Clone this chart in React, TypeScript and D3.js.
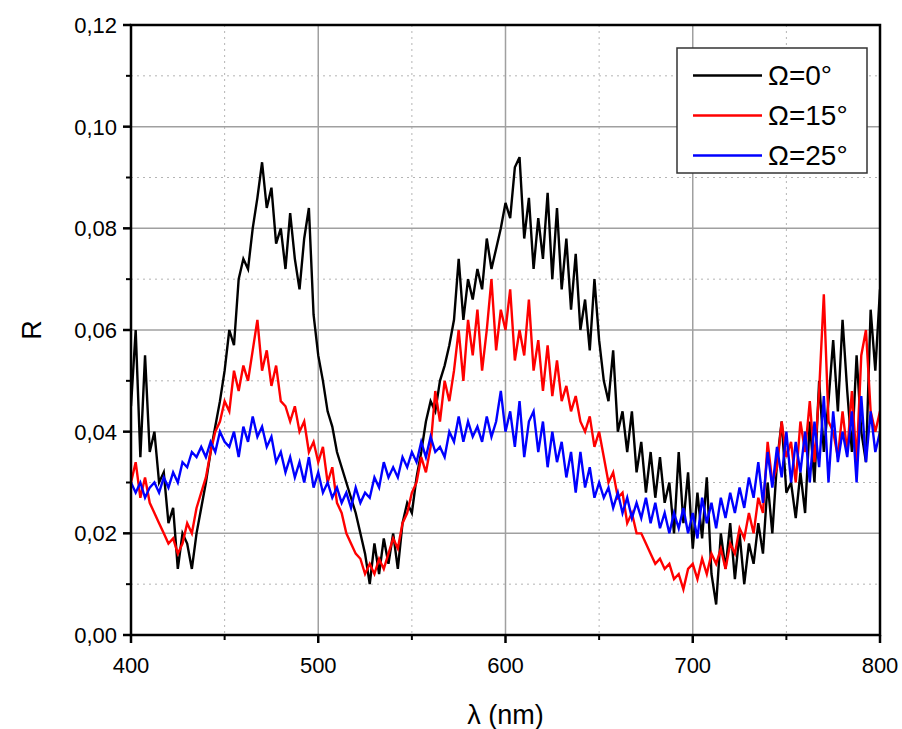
import React from "react";
import * as d3 from "d3";

// wavelengths (nm), every 2.5 nm from 400 to 800
const wavelengths: number[] = Array.from({ length: 161 }, (_, i) => 400 + i * 2.5);

// R values in thousandths (R × 1000)
const omega0: number[] = [
  45, 60, 35, 55, 36, 40, 30, 32, 22, 25, 13, 20, 18, 13, 20, 25, 30, 36, 41, 46,
  52, 60, 57, 70, 74, 72, 80, 86, 93, 84, 88, 77, 80, 72, 83, 74, 68, 78, 84, 63,
  55, 50, 44, 41, 36, 33, 30, 27, 24, 20, 16, 10, 18, 12, 19, 14, 20, 13, 22, 26,
  24, 31, 36, 42, 46, 44, 50, 53, 57, 62, 74, 62, 70, 66, 72, 68, 78, 72, 76, 80,
  85, 82, 92, 94, 78, 86, 72, 82, 74, 87, 70, 84, 68, 78, 64, 75, 60, 66, 56, 70,
  58, 50, 46, 56, 40, 44, 36, 44, 32, 38, 28, 36, 27, 35, 26, 30, 20, 36, 22, 32,
  17, 28, 19, 31, 12, 6, 20, 13, 22, 11, 20, 10, 18, 14, 22, 16, 30, 20, 34, 42,
  28, 30, 23, 32, 24, 42, 30, 50, 36, 46, 58, 44, 62, 48, 36, 55, 40, 34, 64, 52,
  68, 62,
];
const omega15: number[] = [
  30, 34, 27, 31, 26, 24, 22, 20, 18, 19, 16, 18, 22, 20, 25, 28, 31, 36, 40, 42,
  46, 44, 52, 48, 53, 50, 56, 62, 52, 56, 49, 53, 46, 45, 42, 45, 40, 42, 36, 38,
  34, 37, 30, 33, 26, 24, 20, 18, 16, 15, 12, 14, 12, 15, 13, 16, 19, 17, 22, 24,
  28, 30, 35, 32, 37, 48, 42, 50, 46, 52, 60, 50, 62, 55, 64, 52, 60, 70, 56, 64,
  60, 68, 54, 60, 55, 66, 52, 58, 48, 57, 47, 54, 46, 49, 44, 47, 42, 40, 43, 37,
  40, 35, 30, 32, 27, 28, 22, 24, 20, 20, 18, 16, 14, 15, 13, 14, 11, 12, 9, 13,
  14, 11, 15, 12, 16, 14, 17, 13, 18, 16, 21, 19, 24, 20, 27, 24, 38, 30, 33, 42,
  35, 38, 30, 42, 36, 46, 34, 48, 67, 42, 40, 35, 44, 36, 48, 34, 55, 60, 44, 40,
  44,
];
const omega25: number[] = [
  30, 28, 30, 27, 29, 30, 28, 31, 29, 32, 30, 34, 33, 36, 35, 37, 35, 38, 36, 40,
  38, 37, 40, 35, 41, 38, 43, 39, 41, 37, 39, 34, 36, 32, 35, 31, 34, 30, 35, 29,
  32, 28, 30, 27, 29, 26, 28, 25, 29, 26, 28, 27, 31, 29, 34, 31, 33, 31, 35, 33,
  36, 34, 38, 35, 39, 36, 37, 35, 40, 38, 43, 38, 42, 39, 41, 38, 43, 39, 42, 48,
  40, 44, 37, 46, 35, 42, 44, 36, 42, 33, 40, 34, 38, 31, 36, 28, 36, 29, 33, 27,
  30, 27, 29, 25, 28, 24, 27, 23, 26, 23, 27, 22, 26, 21, 24, 20, 24, 21, 25, 20,
  24, 19, 27, 22, 26, 21, 27, 23, 28, 24, 29, 25, 31, 27, 34, 26, 36, 29, 37, 31,
  40, 30, 38, 32, 40, 30, 42, 33, 47, 30, 44, 34, 40, 35, 44, 30, 47, 34, 44, 36,
  40,
];

const seriesNames: string[] = ["Ω=0°", "Ω=15°", "Ω=25°"];
const seriesColors: string[] = ["#000000", "#ff0000", "#0000ff"];

const xMajorTicks: number[] = [400, 500, 600, 700, 800];
const xMinorTicks: number[] = [450, 550, 650, 750];
const yMajorTicks: number[] = [0, 20, 40, 60, 80, 100, 120];
const yMinorTicks: number[] = [10, 30, 50, 70, 90, 110];
const yTickLabels: string[] = ["0,00", "0,02", "0,04", "0,06", "0,08", "0,10", "0,12"];

const W = 902;
const H = 729;
const left = 131;
const right = 880;
const top = 25;
const bottom = 635;

export default function App() {
  const x = d3.scaleLinear().domain([400, 800]).range([left, right]);
  const y = d3.scaleLinear().domain([0, 120]).range([bottom, top]);
  const line = d3
    .line<number>()
    .x((_, i) => x(wavelengths[i]))
    .y((d) => y(d));
  const allSeries = [omega0, omega15, omega25];
  const font = "Arial, 'Liberation Sans', sans-serif";

  return (
    <svg
      width={W}
      height={H}
      style={{ position: "absolute", left: 0, top: 0, background: "#fff" }}
      fontFamily={font}
    >
      <rect x={0} y={0} width={W} height={H} fill="#fff" />
      {/* minor grid */}
      {xMinorTicks.map((t) => (
        <line key={"xm" + t} x1={x(t)} x2={x(t)} y1={top} y2={bottom} stroke="#b4b4b4" strokeWidth={1} strokeDasharray="2,4" />
      ))}
      {yMinorTicks.map((t) => (
        <line key={"ym" + t} x1={left} x2={right} y1={y(t)} y2={y(t)} stroke="#b4b4b4" strokeWidth={1} strokeDasharray="2,4" />
      ))}
      {/* major grid */}
      {xMajorTicks.slice(1, -1).map((t) => (
        <line key={"xg" + t} x1={x(t)} x2={x(t)} y1={top} y2={bottom} stroke="#a0a0a0" strokeWidth={1.5} />
      ))}
      {yMajorTicks.slice(1, -1).map((t) => (
        <line key={"yg" + t} x1={left} x2={right} y1={y(t)} y2={y(t)} stroke="#a0a0a0" strokeWidth={1.5} />
      ))}
      <defs>
        <clipPath id="clip">
          <rect x={left} y={top} width={right - left} height={bottom - top} />
        </clipPath>
      </defs>
      {/* data */}
      <g clipPath="url(#clip)">
        {allSeries.map((s, k) => (
          <path key={k} d={line(s) || ""} fill="none" stroke={seriesColors[k]} strokeWidth={2.4} strokeLinejoin="miter" />
        ))}
      </g>
      {/* frame */}
      <rect x={left} y={top} width={right - left} height={bottom - top} fill="none" stroke="#000" strokeWidth={2.5} />
      {/* ticks */}
      {xMajorTicks.map((t) => (
        <line key={"xt" + t} x1={x(t)} x2={x(t)} y1={bottom} y2={bottom + 8} stroke="#000" strokeWidth={2.5} />
      ))}
      {xMinorTicks.map((t) => (
        <line key={"xmt" + t} x1={x(t)} x2={x(t)} y1={bottom} y2={bottom + 5} stroke="#000" strokeWidth={2} />
      ))}
      {yMajorTicks.map((t) => (
        <line key={"yt" + t} x1={left - 8} x2={left} y1={y(t)} y2={y(t)} stroke="#000" strokeWidth={2.5} />
      ))}
      {yMinorTicks.map((t) => (
        <line key={"ymt" + t} x1={left - 5} x2={left} y1={y(t)} y2={y(t)} stroke="#000" strokeWidth={2} />
      ))}
      {/* tick labels */}
      {xMajorTicks.map((t) => (
        <text key={"xl" + t} x={x(t)} y={bottom + 38} textAnchor="middle" fontSize={22} fill="#000">
          {t}
        </text>
      ))}
      {yMajorTicks.map((t, i) => (
        <text key={"yl" + t} x={left - 14} y={y(t) + 8} textAnchor="end" fontSize={22} fill="#000">
          {yTickLabels[i]}
        </text>
      ))}
      {/* axis titles */}
      <text x={(left + right) / 2} y={724} textAnchor="middle" fontSize={27} fill="#000">
        λ (nm)
      </text>
      <text transform={`translate(41, ${(top + bottom) / 2}) rotate(-90)`} textAnchor="middle" fontSize={27} fill="#000">
        R
      </text>
      {/* legend */}
      <rect x={677} y={48} width={190} height={125} fill="#fff" stroke="#333" strokeWidth={1.5} />
      {seriesNames.map((n, k) => (
        <g key={n}>
          <line x1={693} x2={762} y1={75.5 + k * 40} y2={75.5 + k * 40} stroke={seriesColors[k]} strokeWidth={2.5} />
          <text x={768} y={85 + k * 40} fontSize={28} fill="#000">
            {n}
          </text>
        </g>
      ))}
    </svg>
  );
}
